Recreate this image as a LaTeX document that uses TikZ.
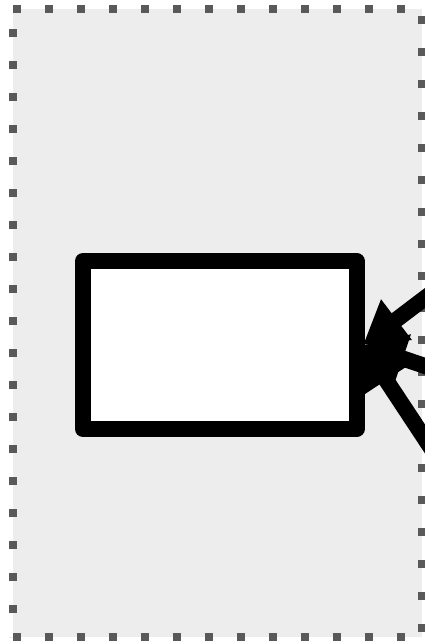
\documentclass[tikz,border=0pt]{standalone}
\usetikzlibrary{arrows.meta}
\definecolor{clusterfill}{RGB}{237,237,237}
\definecolor{clusterdot}{RGB}{89,89,89}
\begin{document}
\begin{tikzpicture}[x=1pt,y=-1pt,
  dotline/.style={draw=clusterdot,line width=8pt,dash pattern=on 8pt off 24pt},
  boxnode/.style={draw=black,fill=white,line width=16pt,line join=round,minimum width=273.5pt,minimum height=168pt,inner sep=0pt,outer sep=6.5pt},
  edgeline/.style={draw=black,line width=16pt,-{Triangle[length=42pt,width=48pt]}}]
\useasboundingbox (0,0) rectangle (425,643);
\clip (0,0) rectangle (425,643);
\fill[clusterfill] (13,9) rectangle (422,637);
\draw[dotline] (13,9) -- (422,9);
\draw[dotline,dash phase=25pt] (422,9) -- (422,637);
\draw[dotline] (13,637) -- (422,637);
\draw[dotline,dash phase=12pt] (13,9) -- (13,637);
\node[boxnode] (box) at (219.75,345) {};
\coordinate (srcA) at (487,251);
\coordinate (srcB) at (487,387);
\coordinate (srcC) at (495,545);
\draw[edgeline] (srcA) -- (box.east);
\draw[edgeline] (srcB) -- (box.east);
\draw[edgeline] (srcC) -- (box.east);
\end{tikzpicture}
\end{document}
